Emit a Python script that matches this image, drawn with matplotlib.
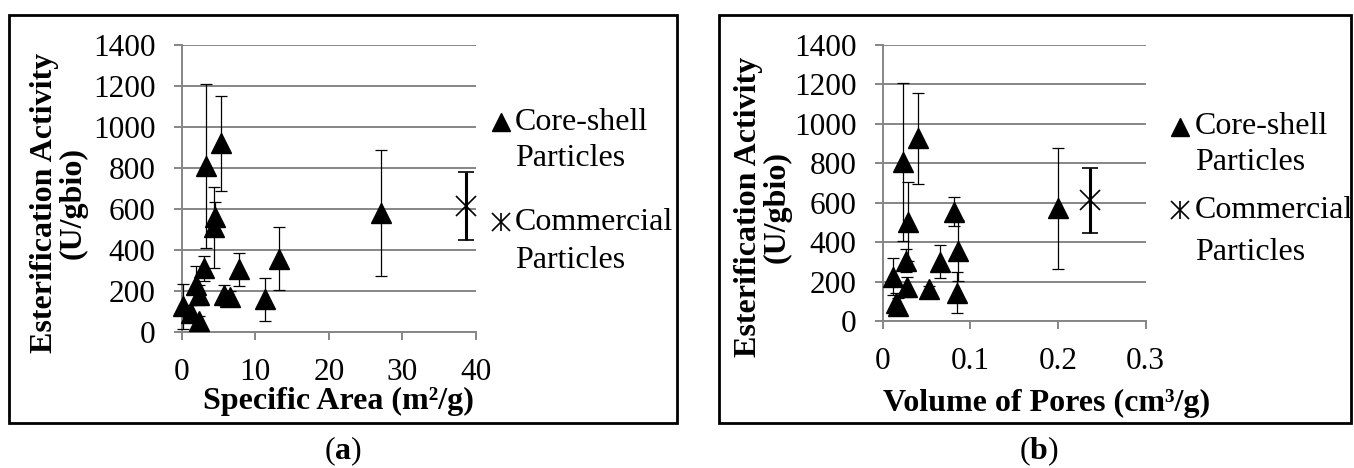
import matplotlib
matplotlib.use('Agg')
import matplotlib.pyplot as plt
from matplotlib.lines import Line2D
from matplotlib.patches import Rectangle

plt.rcParams['font.family'] = 'Liberation Serif'
plt.rcParams['mathtext.fontset'] = 'custom'
plt.rcParams['mathtext.bf'] = 'Liberation Serif:bold'
plt.rcParams['mathtext.rm'] = 'Liberation Serif'

# (a) specific area vs activity
area_cs = [0.2, 1.3, 2.3, 1.9, 2.4, 3.0, 3.3, 4.5, 4.4, 5.3, 5.8, 6.5, 7.8, 11.3, 13.2, 27.1]
act_cs_a = [125, 90, 50, 228, 179, 309, 811, 562, 510, 920, 179, 168, 304, 158, 357, 578]
err_cs_a = [110, 40, 25, 95, 50, 60, 400, 72, 198, 232, 50, 30, 82, 105, 155, 307]
area_com = [38.7]
act_com_a = [615]
err_com_a = [165]

# (b) pore volume vs activity
vol_cs = [0.012, 0.0148, 0.017, 0.0236, 0.029, 0.0266, 0.0278, 0.040, 0.0525, 0.065, 0.081, 0.086, 0.085, 0.200]
act_cs_b = [225, 90, 76, 808, 504, 306, 174, 926, 160, 301, 555, 357, 144, 571]
err_cs_b = [95, 50, 40, 400, 200, 58, 50, 232, 20, 82, 72, 155, 105, 307]
vol_com = [0.236]
act_com_b = [612]
err_com_b = [165]

W, H = 1354, 468
fig = plt.figure(figsize=(W / 100, H / 100), dpi=100)

def px(x0, y0, x1, y1):
    return [x0 / W, 1 - y1 / H, (x1 - x0) / W, (y1 - y0) / H]

GRID = '#868686'
FS = 23
TFS = 22.5

def style(ax, xlim, xticks, xlabels):
    ax.set_xlim(*xlim)
    ax.set_ylim(0, 1400)
    ax.set_xticks(xticks)
    ax.set_xticklabels(xlabels)
    ax.set_yticks(range(0, 1401, 200))
    ax.yaxis.grid(True, color=GRID, lw=1.4)
    ax.set_axisbelow(True)
    for s in ['top', 'right']:
        ax.spines[s].set_visible(False)
    for s in ['left', 'bottom']:
        ax.spines[s].set_color(GRID)
        ax.spines[s].set_linewidth(1.4)
    ax.tick_params(axis='y', length=6, width=1.4, color=GRID, pad=13, labelsize=TFS)
    ax.tick_params(axis='x', length=6, width=1.4, color=GRID, pad=13, labelsize=TFS)

def draw(ax, x, y, e, xc, yc, ec):
    ax.errorbar(x, y, yerr=e, fmt='^', color='black', ms=15, ecolor='black',
                elinewidth=0.9, capsize=4.5, capthick=0.9, clip_on=False, zorder=3)
    ax.errorbar(xc, yc, yerr=ec, fmt='x', color='black', ms=15, mew=1.2,
                ecolor='black', elinewidth=2.2, capsize=5.5, capthick=2.2,
                clip_on=False, zorder=3)

ax1 = fig.add_axes(px(181.7, 45, 476, 331.7))
draw(ax1, area_cs, act_cs_a, err_cs_a, area_com, act_com_a, err_com_a)
style(ax1, (0, 40), [0, 10, 20, 30, 40], ['0', '10', '20', '30', '40'])

ax2 = fig.add_axes(px(882.7, 45, 1145.7, 321))
draw(ax2, vol_cs, act_cs_b, err_cs_b, vol_com, act_com_b, err_com_b)
style(ax2, (0, 0.3), [0, 0.1, 0.2, 0.3], ['0', '0.1', '0.2', '0.3'])

# frames around each panel
fig.add_artist(Rectangle((9 / W, 1 - 423 / H), 668 / W, 408 / H, transform=fig.transFigure,
                         fill=False, lw=2, ec='black'))
fig.add_artist(Rectangle((719 / W, 1 - 423 / H), 632 / W, 408 / H, transform=fig.transFigure,
                         fill=False, lw=2, ec='black'))

ylab = 'Esterification Activity\n(U/gbio)'
fig.text(59 / W, 1 - 203 / H, ylab, rotation=90, ha='center', va='center',
         fontsize=FS, fontweight='bold', linespacing=1.0)
fig.text(763 / W, 1 - 207 / H, ylab, rotation=90, ha='center', va='center',
         fontsize=FS, fontweight='bold', linespacing=1.0)

fig.text(338 / W, 1 - 401 / H, 'Specific Area (m²/g)', ha='center', va='center',
         fontsize=FS, fontweight='bold')
fig.text(1047 / W, 1 - 403 / H, 'Volume of Pores (cm³/g)', ha='center', va='center',
         fontsize=FS, fontweight='bold')

fig.text(343 / W, 1 - 451 / H, r'($\mathbf{a}$)', ha='center', va='center', fontsize=FS)
fig.text(1039 / W, 1 - 451 / H, r'($\mathbf{b}$)', ha='center', va='center', fontsize=FS)

# legends
def legend(xm, xt, ys):
    fig.add_artist(Line2D([xm / W], [1 - ys[0] / H], marker='^', ms=13, color='black',
                          ls='none', transform=fig.transFigure))
    for m in ['x', '|']:
        fig.add_artist(Line2D([xm / W], [1 - ys[2] / H], marker=m, ms=13, mew=1.2,
                              color='black', ls='none', transform=fig.transFigure))
    for t, y in zip(['Core-shell', 'Particles', 'Commercial', 'Particles'], ys):
        fig.text(xt / W, 1 - y / H, t, ha='left', va='center', fontsize=FS)

legend(501, 515, [122, 158, 222, 260])
legend(1180, 1195, [127, 163, 210, 253])

fig.savefig('out.png', dpi=100)
